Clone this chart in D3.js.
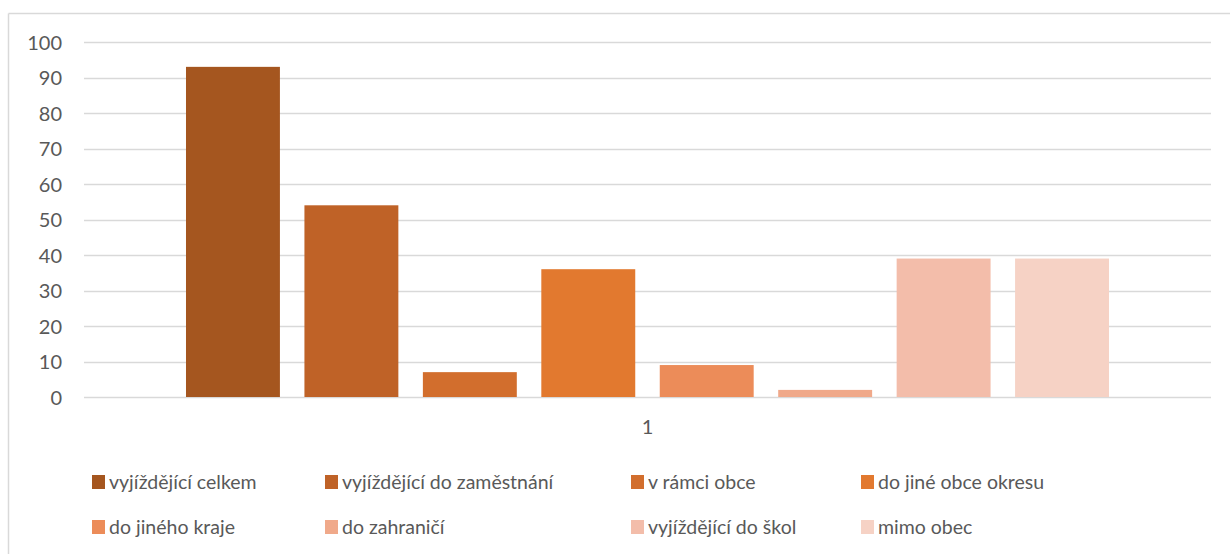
<!DOCTYPE html>
<html>
<head>
<meta charset="utf-8">
<script src="https://cdn.jsdelivr.net/npm/d3@7"></script>
<style>
  body { margin: 0; background: #fff; }
  text { font-family: Lato, "Open Sans", sans-serif; fill: #595959; }
</style>
</head>
<body>
<div id="chart"></div>
<script>
var svgWidth = 1230;
var svgHeight = 554;

// data
var categories = ["1"];
var seriesNames = ["vyjíždějící celkem", "vyjíždějící do zaměstnání", "v rámci obce",
  "do jiné obce okresu", "do jiného kraje", "do zahraničí", "vyjíždějící do škol", "mimo obec"];
var seriesValues = [93, 54, 7, 36, 9, 2, 39, 39];
var seriesColors = ["#a5561f", "#bf6227", "#d26e2d", "#e2792f", "#ec8c59", "#f0a98a", "#f3bdaa", "#f6d2c5"];
var yTicks = [0, 10, 20, 30, 40, 50, 60, 70, 80, 90, 100];

var plot = { left: 84, right: 1211, top: 42, bottom: 397 };

var svg = d3.select("#chart").append("svg")
  .attr("width", svgWidth)
  .attr("height", svgHeight);

// outer chart frame (only top and left visible)
svg.append("line")
  .attr("x1", 8.5).attr("x2", svgWidth).attr("y1", 13.5).attr("y2", 13.5)
  .attr("stroke", "#d9d9d9").attr("stroke-width", 1.5);
svg.append("line")
  .attr("x1", 8.5).attr("x2", 8.5).attr("y1", 13.5).attr("y2", svgHeight)
  .attr("stroke", "#d9d9d9").attr("stroke-width", 1.5);

var yScale = d3.scaleLinear()
  .domain([0, 100])
  .range([plot.bottom, plot.top]);

var x0 = d3.scaleBand()
  .domain(categories)
  .range([plot.left, plot.right])
  .paddingInner(0)
  .paddingOuter(0.0947);

var x1 = d3.scaleBand()
  .domain(seriesNames)
  .range([0, x0.bandwidth()])
  .paddingInner(0.207)
  .paddingOuter(0.1035);

// gridlines
svg.append("g")
  .selectAll("line")
  .data(yTicks)
  .enter()
  .append("line")
  .attr("x1", plot.left)
  .attr("x2", plot.right)
  .attr("y1", function(d) { return Math.round(yScale(d)) + 0.5; })
  .attr("y2", function(d) { return Math.round(yScale(d)) + 0.5; })
  .attr("stroke", "#d9d9d9")
  .attr("stroke-width", 1.5);

// y axis labels
var yAxis = d3.axisLeft(yScale).tickValues(yTicks).tickSize(0).tickPadding(0);
var yG = svg.append("g")
  .attr("transform", "translate(62,0)")
  .call(yAxis);
yG.select(".domain").remove();
yG.selectAll("text")
  .attr("dy", "0.35em")
  .style("font-size", "20px")
  .style("font-family", "Lato, sans-serif")
  .attr("fill", "#595959");

// bars
var group = svg.append("g")
  .selectAll("g")
  .data(categories)
  .enter()
  .append("g")
  .attr("transform", function(d) { return "translate(" + x0(d) + ",0)"; });

group.selectAll("rect")
  .data(seriesNames.map(function(name, i) {
    return { name: name, value: seriesValues[i], color: seriesColors[i] };
  }))
  .enter()
  .append("rect")
  .attr("x", function(d) { return x1(d.name); })
  .attr("width", x1.bandwidth())
  .attr("y", function(d) { return yScale(d.value); })
  .attr("height", function(d) { return plot.bottom - yScale(d.value); })
  .attr("fill", function(d) { return d.color; });

// x axis label
var xAxis = d3.axisBottom(x0).tickSize(0).tickPadding(0);
var xG = svg.append("g")
  .attr("transform", "translate(0,420)")
  .call(xAxis);
xG.select(".domain").remove();
xG.selectAll("text")
  .attr("dy", "0.71em")
  .style("font-size", "20px")
  .style("font-family", "Lato, sans-serif")
  .attr("fill", "#595959");

// legend
var legendCols = [92, 325, 631, 861];
var legendRows = [482, 527];

var legend = svg.append("g")
  .selectAll("g")
  .data(seriesNames)
  .enter()
  .append("g")
  .attr("transform", function(d, i) {
    return "translate(" + legendCols[i % 4] + "," + legendRows[Math.floor(i / 4)] + ")";
  });

legend.append("rect")
  .attr("x", 0)
  .attr("y", -7)
  .attr("width", 13)
  .attr("height", 14)
  .attr("fill", function(d, i) { return seriesColors[i]; });

legend.append("text")
  .attr("x", 17)
  .attr("y", 0)
  .attr("dy", "0.35em")
  .style("font-size", "19.5px")
  .text(function(d) { return d; });
</script>
</body>
</html>
